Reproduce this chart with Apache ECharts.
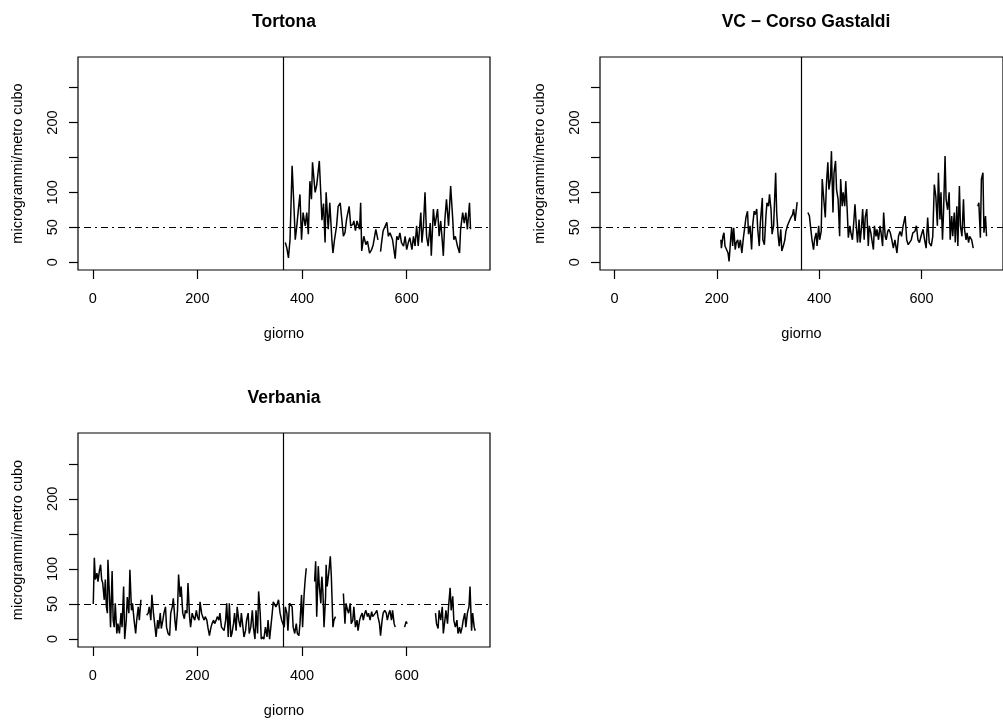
<!DOCTYPE html>
<html>
<head>
<meta charset="utf-8">
<title>PM10 giornaliero</title>
<script src="https://cdn.jsdelivr.net/npm/echarts@6/dist/echarts.min.js"></script>
<style>
  html, body { margin: 0; padding: 0; background: #fff; }
  #chart { width: 1003px; height: 720px; }
</style>
</head>
<body>
<div id="chart"></div>
<script>
// Daily PM10 concentrations (µg/m³) for three monitoring stations, day index 1..731.
// null marks a break in the record.

const stationTitles = ['Tortona', 'VC \u2212 Corso Gastaldi', 'Verbania'];

const torDays = [368,371,374,377,381,385,387,390,393,396,399,402,406,409,412,415,418,420,425,428,
  433,436,438,441,444,446,450,453,457,459,462,466,469,473,476,479,482,485,490,493,
  497,499,502,505,510,512,514,518,522,525,529,533,536,541,545,547,550,552,555,562,
  565,568,573,578,581,584,587,590,594,597,600,603,606,610,613,616,619,622,627,629,
  632,635,638,641,645,647,651,654,659,662,665,668,670,673,676,680,684,688,690,693,
  697,701,703,707,710,713,716,720,722];
const torVals = [28,20,6,32,138,71,32,52,76,97,32,71,52,71,40,116,90,143,100,110,
  145,95,60,84,28,100,47,85,32,13,32,52,80,85,61,37,42,61,80,52,
  54,59,45,59,47,85,16,37,25,30,13,18,25,47,32,null,15,28,45,57,
  37,42,32,5,37,32,42,28,23,37,18,28,35,18,37,23,52,23,71,28,
  52,100,37,23,56,9,76,52,76,37,59,30,9,61,90,52,109,61,32,37,
  23,13,47,71,56,71,47,85,47];

const vcDays = [208,209,212,214,216,219,222,224,227,229,231,233,236,238,241,243,246,249,252,255,
  257,260,262,265,268,270,273,275,278,280,283,285,289,290,293,296,298,301,303,306,
  308,311,315,317,320,322,325,327,330,333,335,338,340,343,345,348,350,353,357,367,
  378,381,383,386,389,391,394,396,399,401,404,406,409,412,414,417,419,422,424,427,
  429,432,434,437,440,442,445,447,450,452,455,457,460,462,465,468,470,473,475,478,
  480,483,485,488,490,493,496,498,501,503,506,508,511,513,516,519,521,524,526,529,
  531,534,536,539,542,545,548,552,555,558,561,564,568,571,574,577,580,583,587,590,
  593,596,599,603,606,609,612,615,619,622,625,628,631,633,636,638,641,643,646,648,
  651,654,656,659,661,664,666,669,671,674,676,679,682,684,687,689,692,694,698,701,
  705,710,712,715,717,720,722,725,727];
const vcVals = [32,20,37,42,23,18,13,1,32,49,23,49,18,28,32,20,32,13,35,52,
  64,73,40,52,18,52,73,68,76,47,23,56,92,32,25,66,85,80,97,75,
  40,52,128,71,37,23,47,16,23,32,44,52,54,61,64,68,76,59,86,null,
  71,66,52,32,18,32,42,23,52,32,44,119,90,64,109,143,104,119,159,71,
  128,145,104,90,37,119,80,100,80,116,71,35,52,42,32,61,83,47,28,61,
  28,52,76,32,64,76,23,52,42,32,18,52,37,47,32,52,42,23,71,37,
  32,44,47,42,32,20,32,13,37,44,37,52,66,32,25,23,32,42,44,52,
  32,28,37,47,32,20,64,28,23,37,111,94,52,128,61,100,32,71,152,90,
  75,100,32,66,37,71,28,80,23,109,52,37,90,47,32,42,28,37,32,20,
  null,80,85,35,119,128,42,66,37];

const verDays = [1,3,5,8,10,13,15,17,19,22,24,26,28,29,32,34,37,39,41,43,
  46,48,51,54,56,59,61,64,66,69,71,74,76,79,82,84,87,89,92,97,
  103,106,108,111,113,116,119,121,124,126,129,131,134,136,139,141,144,147,149,152,
  154,157,159,162,164,167,169,172,175,177,180,182,185,187,190,192,195,198,200,203,
  205,208,210,213,215,218,220,223,226,228,231,233,236,238,241,243,246,248,251,254,
  256,259,261,264,266,269,271,274,276,279,282,284,287,289,292,294,297,299,302,305,
  307,310,312,315,317,320,322,325,327,330,333,335,338,340,343,345,348,350,353,355,
  358,361,363,366,368,371,373,376,378,381,383,386,389,391,394,396,399,401,404,406,
  408,416,424,426,428,431,433,436,437,438,440,442,445,446,448,451,454,456,459,461,
  464,471,479,482,484,487,489,492,494,497,499,502,505,507,510,512,515,517,520,522,
  525,527,530,533,535,538,540,543,545,548,550,553,555,558,561,563,566,568,571,573,
  576,578,587,596,599,601,628,655,657,660,662,665,668,670,673,675,678,680,683,685,
  688,690,693,696,698,701,703,706,708,711,713,716,719,721,724,726,729,731];
const verVals = [50,116,85,94,82,99,106,85,80,56,85,46,37,113,60,17,97,27,17,51,
  8,22,8,37,17,75,0,27,60,37,99,41,51,27,8,27,46,27,56,null,
  34,37,46,27,63,37,17,3,27,15,37,15,27,37,46,17,8,5,37,46,
  58,27,12,41,92,60,75,37,29,41,37,80,32,17,37,32,27,41,32,27,
  53,37,32,27,32,27,17,5,17,22,27,22,27,32,27,37,17,17,12,27,
  51,3,51,3,8,22,37,12,46,27,17,37,17,3,12,27,37,8,17,41,
  17,0,41,8,68,37,0,3,0,17,3,27,0,0,37,53,51,46,51,56,
  37,27,29,17,46,37,12,51,53,46,17,8,22,8,5,22,63,17,65,85,
  101,null,82,111,32,104,75,51,80,89,65,17,61,106,75,94,118,89,17,27,
  32,null,65,22,51,41,37,51,22,27,46,17,27,12,27,32,37,27,37,41,
  32,37,27,39,32,34,37,41,32,22,5,27,37,41,37,27,37,41,27,41,
  22,17,null,17,25,22,null,37,22,15,41,27,46,8,27,41,22,46,73,41,
  61,27,17,27,8,17,8,17,27,37,17,37,46,75,12,37,17,12];

// Reference lines: daily limit and the boundary between the two years.
const limitValue = 50;
const yearBoundary = 365;

const xTicks = [0, 200, 400, 600];
const yTicks = [0, 50, 100, 150, 200, 250];
const yTickLabels = [0, 50, 100, 200];

const stations = [
  { days: torDays, vals: torVals },
  { days: vcDays, vals: vcVals },
  { days: verDays, vals: verVals }
];

const FONT = "'Liberation Sans', Arial, Helvetica, sans-serif";

// panel boxes (left, top, width, height)
const panels = [
  { left: 78, top: 57, width: 412, height: 213 },
  { left: 600, top: 57, width: 412, height: 213 },
  { left: 78, top: 433, width: 412, height: 214 }
];

const grids = panels.map(p => ({
  left: p.left, top: p.top, width: p.width, height: p.height,
  show: true, borderColor: '#000', borderWidth: 1.2, backgroundColor: 'transparent',
  containLabel: false
}));

const xAxes = panels.map((p, i) => ({
  gridIndex: i, type: 'value', min: -28.2, max: 759.2,
  axisLine: { show: false, onZero: false },
  splitLine: { show: false },
  axisTick: { show: true, customValues: xTicks, length: 9, lineStyle: { color: '#000', width: 1.2 } },
  axisLabel: { customValues: xTicks, margin: 21, fontSize: 14.5, color: '#000', fontFamily: FONT },
  name: 'giorno', nameLocation: 'middle', nameGap: 56,
  nameTextStyle: { fontSize: 14.5, color: '#000', fontFamily: FONT }
}));

const yAxes = panels.map((p, i) => ({
  gridIndex: i, type: 'value', min: -11.3, max: 293.9,
  axisLine: { show: false, onZero: false },
  splitLine: { show: false },
  axisTick: { show: true, customValues: yTicks, length: 9, lineStyle: { color: '#000', width: 1.2 } },
  axisLabel: { customValues: yTickLabels, rotate: 90, margin: 18, fontSize: 14.5, color: '#000', fontFamily: FONT },
  name: 'microgrammi/metro cubo', nameLocation: 'middle', nameGap: 52.5,
  nameTextStyle: { fontSize: 14.5, color: '#000', fontFamily: FONT }
}));

const series = stations.map((s, i) => ({
  type: 'line',
  xAxisIndex: i, yAxisIndex: i,
  data: s.days.map((d, k) => [d, s.vals[k]]),
  showSymbol: false, symbol: 'none',
  connectNulls: false,
  lineStyle: { color: '#000', width: 1.5 },
  silent: true,
  markLine: {
    silent: true, symbol: 'none', animation: false,
    label: { show: false },
    data: [
      { yAxis: limitValue, lineStyle: { color: '#000', width: 1.2, type: [2, 4, 7, 4] } },
      { xAxis: yearBoundary, lineStyle: { color: '#000', width: 1.2, type: 'solid' } }
    ]
  }
}));

const titleY = [22.5, 22.5, 398.5];
const graphics = panels.map((p, i) => ({
  type: 'text',
  x: p.left + p.width / 2, y: titleY[i],
  style: {
    text: stationTitles[i], align: 'center', verticalAlign: 'middle',
    font: "bold 17.5px " + FONT, fill: '#000'
  }
}));

const chart = echarts.init(document.getElementById('chart'), null, { renderer: 'canvas' });
chart.setOption({
  animation: false,
  backgroundColor: '#fff',
  grid: grids,
  xAxis: xAxes,
  yAxis: yAxes,
  series: series,
  graphic: graphics
});
</script>
</body>
</html>
